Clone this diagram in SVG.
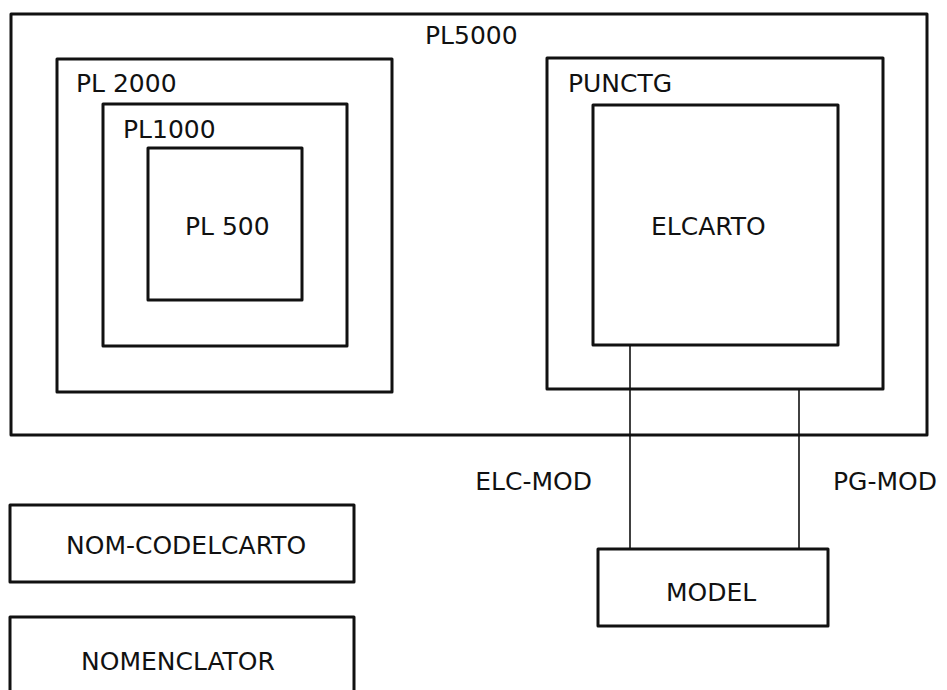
<svg xmlns="http://www.w3.org/2000/svg" width="947" height="690" viewBox="0 0 947 690">
<style>
.box{fill:none;stroke:#111;stroke-width:3;stroke-linejoin:round}
.lbl{font-family:"DejaVu Sans","Liberation Sans",sans-serif;font-size:25px;fill:#111}
.con{stroke:#111;stroke-width:1.6;fill:none}
</style>
<rect width="947" height="690" fill="#fff"/>
<g id="PL5000"><rect class="box" x="11" y="14" width="916" height="421"/><text class="lbl" x="425" y="44">PL5000</text></g>
<g id="PL2000"><rect class="box" x="57" y="59" width="335" height="333"/><text class="lbl" x="76" y="92">PL 2000</text></g>
<g id="PL1000"><rect class="box" x="103" y="104" width="244" height="242"/><text class="lbl" x="123" y="138">PL1000</text></g>
<g id="PL500"><rect class="box" x="148" y="148" width="154" height="152"/><text class="lbl" x="185" y="235" font-size="24">PL 500</text></g>
<g id="PUNCTG"><rect class="box" x="547" y="58" width="336" height="331"/><text class="lbl" x="568" y="92">PUNCTG</text></g>
<g id="ELCARTO"><rect class="box" x="593" y="105" width="245" height="240"/><text class="lbl" x="651" y="235">ELCARTO</text></g>
<g id="MODEL"><rect class="box" x="598" y="549" width="230" height="77"/><text class="lbl" x="666" y="601">MODEL</text></g>
<g id="NOM-CODELCARTO"><rect class="box" x="10" y="505" width="344" height="77"/><text class="lbl" x="66" y="554">NOM-CODELCARTO</text></g>
<g id="NOMENCLATOR"><rect class="box" x="10" y="617" width="344" height="90"/><text class="lbl" x="81" y="670">NOMENCLATOR</text></g>
<g id="connectors">
<line class="con" x1="630" y1="345" x2="630" y2="549"/>
<line class="con" x1="799" y1="389" x2="799" y2="549"/>
<text class="lbl" x="592" y="490" text-anchor="end">ELC-MOD</text>
<text class="lbl" x="833" y="490">PG-MOD</text>
</g>
</svg>
